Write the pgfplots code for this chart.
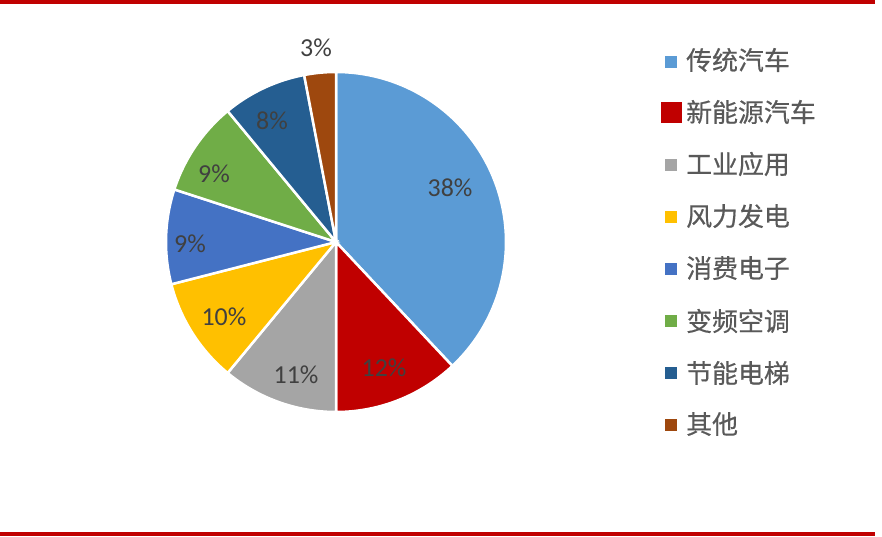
\documentclass[border=0pt]{standalone}
\usepackage{pgfplots}
\pgfplotsset{compat=1.18}
\usepackage{fontspec}
\setmainfont{Carlito}
\newfontfamily\cjk[BoldFont={Noto Sans CJK SC}, BoldFeatures={FakeBold=0.5}]{Noto Sans CJK SC}
\definecolor{c1}{HTML}{5B9BD5}
\definecolor{c2}{HTML}{C00000}
\definecolor{c3}{HTML}{A5A5A5}
\definecolor{c4}{HTML}{FFC000}
\definecolor{c5}{HTML}{4472C4}
\definecolor{c6}{HTML}{70AD47}
\definecolor{c7}{HTML}{255E91}
\definecolor{c8}{HTML}{9E480E}
\definecolor{rule}{HTML}{C00000}
\definecolor{lab}{HTML}{404040}
\definecolor{legtxt}{HTML}{595959}
% colour, cumulative share before, share
\newcommand\slice[3]{%
  \pgfmathsetmacro\aA{90-3.6*(#2+#3)}%
  \pgfmathsetmacro\aB{90-3.6*#2}%
  \edef\tmp{\noexpand\addplot[fill=#1, draw=white, line width=2.5bp, domain=\aA:\aB, samples=90] ({336+170*cos(x)},{242-170*sin(x)}) -- (axis cs:336,242) -- cycle;}%
  \tmp}
\begin{document}
\begin{tikzpicture}
\begin{axis}[scale only axis, width=882bp, height=537bp,
  xmin=0, xmax=882, ymin=0, ymax=537, y dir=reverse,
  hide axis, clip=false, name=main]
% rules
\addplot[rule, line width=4bp] coordinates {(0,2) (875,2)};
\addplot[rule, line width=4bp] coordinates {(0,533.5) (875,533.5)};
% pie
\slice{c1}{0}{38}
\slice{c2}{38}{12}
\slice{c3}{50}{11}
\slice{c4}{61}{10}
\slice{c5}{71}{9}
\slice{c6}{80}{9}
\slice{c7}{89}{8}
\slice{c8}{97}{3}
% labels
\begin{scope}[every node/.style={font=\fontsize{26}{26}\selectfont, text=lab, inner sep=0}]
\node at (axis cs:316,48) {3\%};
\node at (axis cs:450,188) {38\%};
\node at (axis cs:384,368) {12\%};
\node at (axis cs:296,375) {11\%};
\node at (axis cs:224,317) {10\%};
\node at (axis cs:190,244) {9\%};
\node at (axis cs:214,174) {9\%};
\node at (axis cs:272,121) {8\%};
\end{scope}
% legend markers
\addplot[only marks, mark=square*, mark size=5.5bp, color=c1] coordinates {(671,62)};
\addplot[only marks, mark=square*, mark size=10bp, color=c2] coordinates {(671,112)};
\addplot[only marks, mark=square*, mark size=5.5bp, color=c3] coordinates {(671,165)};
\addplot[only marks, mark=square*, mark size=5.5bp, color=c4] coordinates {(671,217)};
\addplot[only marks, mark=square*, mark size=5.5bp, color=c5] coordinates {(671,269)};
\addplot[only marks, mark=square*, mark size=5.5bp, color=c6] coordinates {(671,321)};
\addplot[only marks, mark=square*, mark size=5.5bp, color=c7] coordinates {(671,373)};
\addplot[only marks, mark=square*, mark size=5.5bp, color=c8] coordinates {(671,425)};
\begin{scope}[every node/.style={font=\cjk\bfseries\fontsize{26}{26}\selectfont, text=legtxt, inner sep=0, anchor=west}]
\node at (axis cs:686,60) {传统汽车};
\node at (axis cs:686,112) {新能源汽车};
\node at (axis cs:686,164) {工业应用};
\node at (axis cs:686,216) {风力发电};
\node at (axis cs:686,268) {消费电子};
\node at (axis cs:686,321) {变频空调};
\node at (axis cs:686,373) {节能电梯};
\node at (axis cs:686,424) {其他};
\end{scope}
\end{axis}
\pgfresetboundingbox
\path[use as bounding box] (main.south west) rectangle (main.north east);
\end{tikzpicture}
\end{document}
